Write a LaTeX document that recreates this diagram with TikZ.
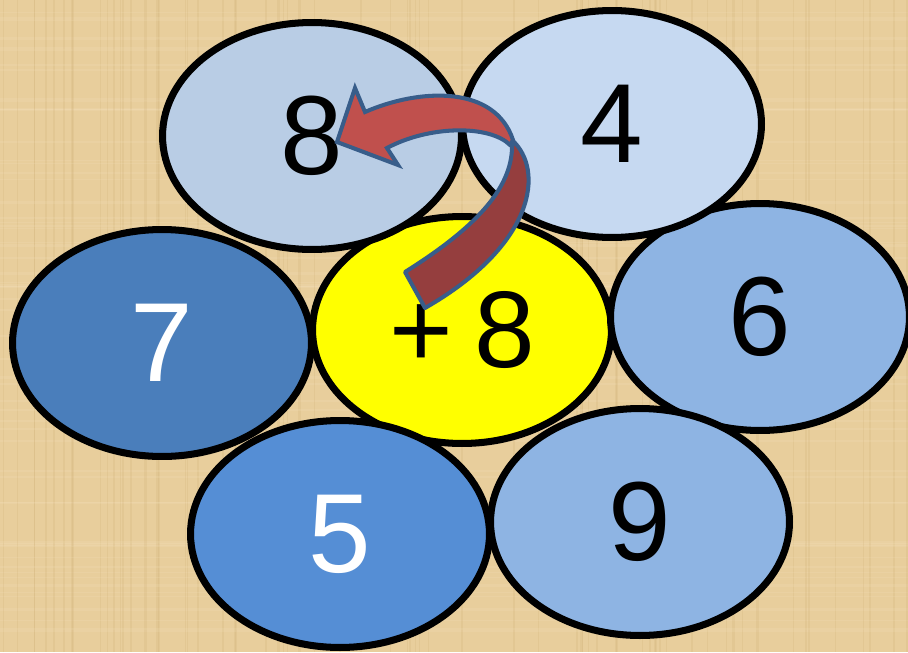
\documentclass[tikz,border=0pt]{standalone}
\usepackage{fontspec}
\setmainfont{Liberation Sans}
\usetikzlibrary{shapes.geometric}
\definecolor{Parch}{HTML}{E8CE9C}
\definecolor{ParchDark}{HTML}{C9A86E}
\definecolor{ParchLight}{HTML}{F6E4BE}
\definecolor{PaleA}{HTML}{B9CDE5}
\definecolor{PaleB}{HTML}{C6D9F1}
\definecolor{MidBlue}{HTML}{8EB4E3}
\definecolor{DeepBlue}{HTML}{4A7EBB}
\definecolor{Cobalt}{HTML}{558ED5}
\definecolor{Lemon}{HTML}{FFFF00}
\definecolor{ArrowRed}{HTML}{C0504D}
\definecolor{ArrowDark}{HTML}{953E3E}
\definecolor{ArrowEdge}{HTML}{385D8A}

\tikzset{
  petal/.style={ellipse,draw=black,line width=4pt,minimum width=5.98cm,minimum height=4.54cm,
    inner sep=0pt,font=\fontsize{64}{70}\selectfont},
  grain/.style={line width=#1,opacity=0.18},
}

\begin{document}
\begin{tikzpicture}[x=0.02cm,y=-0.02cm]
\useasboundingbox (0,0) rectangle (908,652);
\fill[Parch] (0,0) rectangle (908,652);
% paper grain
\pgfmathsetseed{7}
\foreach \i in {1,...,70}{
  \pgfmathsetmacro{\gx}{rnd*908}
  \pgfmathsetmacro{\gw}{0.3+rnd*1.2}
  \draw[ParchDark,grain=\gw pt] (\gx,0) -- (\gx,652);
  \pgfmathsetmacro{\gy}{rnd*652}
  \draw[ParchLight,grain=\gw pt] (0,\gy) -- (908,\gy);
}
\node[petal,fill=DeepBlue,text=white] (seven) at (162,343) {7};
\node[petal,fill=Lemon,font=\fontsize{62}{68}\selectfont] (centre) at (462,330) {+\hspace{0.2em}8};
\node[petal,fill=MidBlue] (six) at (760,317) {6};
\node[petal,fill=PaleA] (eight) at (312,136) {8};
\node[petal,fill=PaleB] (four) at (612,124) {4};
\node[petal,fill=Cobalt,text=white] (five) at (340,534) {5};
\node[petal,fill=MidBlue] (nine) at (640,522) {9};
% curved arrow from the centre up to the 8
\filldraw[ArrowEdge,fill=ArrowDark,line width=2.3pt,line join=round]
  (512,140) .. controls (545,170) and (535,245) .. (425,308)
  -- (405,272) .. controls (480,225) and (514,185) .. (512,142) -- cycle;
\filldraw[ArrowEdge,fill=ArrowRed,line width=2.3pt,line join=miter]
  (337,142) -- (355,88) -- (365,112)
  .. controls (420,88) and (495,85) .. (513,140)
  -- (510,145) .. controls (490,125) and (430,125) .. (387,148)
  -- (398,165) -- cycle;
\end{tikzpicture}
\end{document}
